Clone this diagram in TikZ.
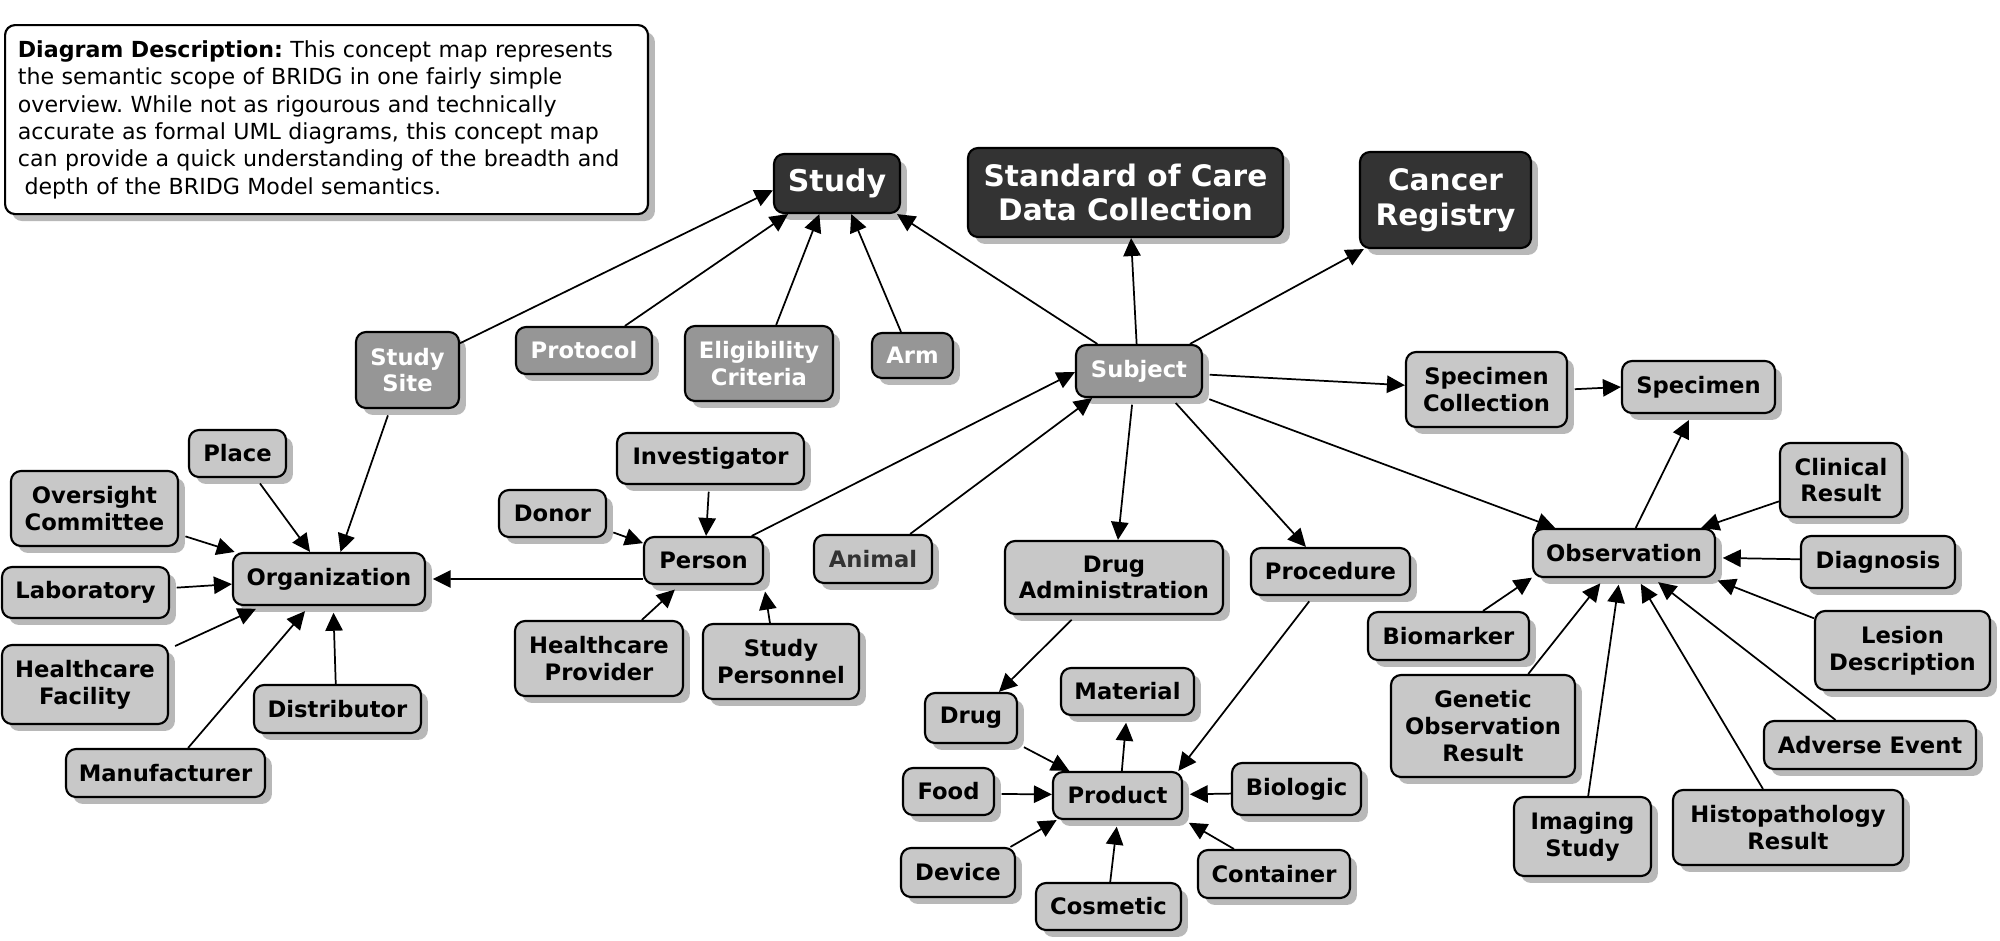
\documentclass[tikz,border=0pt]{standalone}
\usepackage{fontspec}
\setmainfont{DejaVu Sans}
\usetikzlibrary{arrows.meta,shadows}
\definecolor{lightbox}{HTML}{C8C8C8}
\definecolor{midbox}{HTML}{969696}
\definecolor{darkbox}{HTML}{333333}
\definecolor{shadowgray}{HTML}{B8B8B8}
\tikzset{
  box/.style={draw=black, line width=1.6pt, rounded corners=7.5pt, align=center, inner sep=2pt,
    font=\bfseries\fontsize{17}{20}\selectfont,
    drop shadow={shadow xshift=5.2pt, shadow yshift=-5.2pt, fill=shadowgray, opacity=1}},
  lite/.style={box, fill=lightbox, text=black},
  mid/.style={box, fill=midbox, text=white},
  dark/.style={box, fill=darkbox, text=white},
  sz/.style 2 args={minimum width=#1*0.75pt, minimum height=#2*0.75pt},
  conn/.style={-{Triangle[length=13.5pt,width=13pt]}, line width=1.3pt},
  sh/.style={shorten >=5pt},
  sb/.style={shorten <=5pt}
}
\begin{document}
\frenchspacing
\begin{tikzpicture}[x=0.75pt, y=-0.75pt]
\useasboundingbox[fill=white] (0,0) rectangle (2000,940);

% description
\node[draw=black, line width=1.6pt, rounded corners=7.5pt, fill=white,
  drop shadow={shadow xshift=5.2pt, shadow yshift=-5.2pt, fill=shadowgray, opacity=1},
  anchor=north west, text width=463pt, inner xsep=9.6pt, inner ysep=0pt, minimum height=141.75pt,
  align=left, font=\fontsize{16.6}{20.5}\selectfont] (desc) at (4,24)
 {\textbf{Diagram Description:} This concept map represents\\
  the semantic scope of BRIDG in one fairly simple\\
  overview. While not as rigourous and technically\\
  accurate as formal UML diagrams, this concept map\\
  can provide a quick understanding of the breadth and\\
  \hspace{0.3em}depth of the BRIDG Model semantics.};

% dark nodes
\node[dark, sz={126}{59}, font=\bfseries\fontsize{22.5}{26}\selectfont] (study) at (837,183.5) {Study};
\node[dark, sz={315}{89}, font=\bfseries\fontsize{22.2}{26}\selectfont] (soc) at (1125.5,192.5) {Standard of Care\\Data Collection};
\node[dark, sz={171}{96}, font=\bfseries\fontsize{22.2}{26}\selectfont] (cancer) at (1445.5,200) {Cancer\\Registry};

% medium nodes
\node[mid, sz={103}{76}] (ssite) at (407.5,370) {Study\\Site};
\node[mid, sz={136}{47}] (protocol) at (584,350.5) {Protocol};
\node[mid, sz={148}{75}] (elig) at (759,363.5) {Eligibility\\Criteria};
\node[mid, sz={81}{45}] (arm) at (912.5,355.5) {Arm};
\node[mid, sz={126}{52}] (subject) at (1139,371) {Subject};

% light nodes - left
\node[lite, sz={97}{47}] (place) at (237.5,453.5) {Place};
\node[lite, sz={167}{75}] (oversight) at (94.5,508.5) {Oversight\\Committee};
\node[lite, sz={192}{52}] (org) at (329,579) {Organization};
\node[lite, sz={167}{51}] (lab) at (85.5,592.5) {Laboratory};
\node[lite, sz={166}{79}] (hcfac) at (85,684.5) {Healthcare\\Facility};
\node[lite, sz={167}{48}] (distrib) at (337.5,709) {Distributor};
\node[lite, sz={199}{48}] (manuf) at (165.5,773) {Manufacturer};
\node[lite, sz={107}{47}] (donor) at (552.5,513.5) {Donor};
\node[lite, sz={187}{51}] (invest) at (710.5,458.5) {Investigator};
\node[lite, sz={119}{47}] (person) at (703.5,560.5) {Person};
\node[lite, sz={168}{75}] (hcprov) at (599,658.5) {Healthcare\\Provider};
\node[lite, sz={156}{75}] (studypers) at (781,661.5) {Study\\Personnel};
\node[lite, sz={118}{48}, text=darkbox] (animal) at (873,559) {Animal};

% light nodes - middle
\node[lite, sz={218}{73}] (drugadm) at (1114,577.5) {Drug\\Administration};
\node[lite, sz={159}{47}] (procedure) at (1330.5,571.5) {Procedure};
\node[lite, sz={92}{50}] (drug) at (971,718) {Drug};
\node[lite, sz={133}{47}] (material) at (1127.5,691.5) {Material};
\node[lite, sz={91}{47}] (food) at (948.5,791.5) {Food};
\node[lite, sz={129}{47}] (product) at (1117.5,795.5) {Product};
\node[lite, sz={129}{52}] (biologic) at (1296.5,789) {Biologic};
\node[lite, sz={114}{49}] (device) at (958,872.5) {Device};
\node[lite, sz={145}{47}] (cosmetic) at (1108.5,906.5) {Cosmetic};
\node[lite, sz={152}{48}] (container) at (1274,874) {Container};

% light nodes - right
\node[lite, sz={161}{75}] (speccoll) at (1486.5,389.5) {Specimen\\Collection};
\node[lite, sz={153}{52}] (specimen) at (1698.5,387) {Specimen};
\node[lite, sz={122}{74}] (clinical) at (1841,480) {Clinical\\Result};
\node[lite, sz={182}{48}] (observation) at (1624,553) {Observation};
\node[lite, sz={154}{52}] (diagnosis) at (1878,562) {Diagnosis};
\node[lite, sz={175}{79}] (lesion) at (1902.5,650.5) {Lesion\\Description};
\node[lite, sz={161}{48}] (biomarker) at (1448.5,636) {Biomarker};
\node[lite, sz={184}{102}] (genetic) at (1483,726) {Genetic\\Observation\\Result};
\node[lite, sz={212}{48}] (adverse) at (1870,745) {Adverse Event};
\node[lite, sz={137}{79}] (imaging) at (1582.5,836.5) {Imaging\\Study};
\node[lite, sz={230}{75}] (histo) at (1788,827.5) {Histopathology\\Result};

% connectors
\draw[conn] (ssite.27) -- (study.186);
\draw[conn] (protocol.31) -- (study.212);
\draw[conn] (elig.66) -- (study.240);
\draw[conn] (arm.116) -- (study.295);
\draw[conn] (subject.147) -- (study.333);
\draw[conn] (subject.95) -- (soc.277);
\draw[conn] (subject.28) -- (cancer.211);
\draw[conn,sb] (subject.357) -- (speccoll.177);
\draw[conn,sb] (subject.338) -- (observation.160);
\draw[conn,sb] (subject.257) -- (drugadm.84);
\draw[conn,sb] (subject.320) -- (procedure.135);
\draw[conn] (person.27) -- (subject.181);
\draw[conn] (animal.34) -- (subject.210);
\draw[conn,sb] (ssite.246) -- (org.67);
\draw[conn,sb] (place.307) -- (org.125);
\draw[conn,sb] (oversight.343) -- (org.164);
\draw[conn,sb] (lab.3) -- (org.183);
\draw[conn,sh,sb] (hcfac.23) -- (org.202);
\draw[conn,sh] (manuf.48) -- (org.234);
\draw[conn,sh] (distrib.94) -- (org.279);
\draw[conn,sh] (person.197) -- (org.0);
\draw[conn,sb] (donor.343) -- (person.164);
\draw[conn,sb] (invest.267) -- (person.84);
\draw[conn,sh] (hcprov.42) -- (person.226);
\draw[conn,sh] (studypers.106) -- (person.338);
\draw[conn,sb] (drugadm.225) -- (drug.43);
\draw[conn,sb] (procedure.235) -- (product.22);
\draw[conn,sb] (drug.331) -- (product.153);
\draw[conn,sh] (product.80) -- (material.268);
\draw[conn,sb] (food.357) -- (product.179);
\draw[conn,sh] (biologic.184) -- (product.1);
\draw[conn] (device.26) -- (product.202);
\draw[conn,sh] (cosmetic.86) -- (product.270);
\draw[conn,sh] (container.148) -- (product.340);
\draw[conn,sb] (speccoll.0) -- (specimen.180);
\draw[conn,sh] (observation.65) -- (specimen.256);
\draw[conn] (clinical.199) -- (observation.18);
\draw[conn,sh] (diagnosis.178) -- (observation.357);
\draw[conn,sh] (lesion.160) -- (observation.344);
\draw[conn,sh] (adverse.144) -- (observation.319);
\draw[conn,sh] (histo.123) -- (observation.298);
\draw[conn,sh] (imaging.82) -- (observation.260);
\draw[conn,sh] (genetic.49) -- (observation.232);
\draw[conn] (biomarker.36) -- (observation.195);
\end{tikzpicture}
\end{document}
